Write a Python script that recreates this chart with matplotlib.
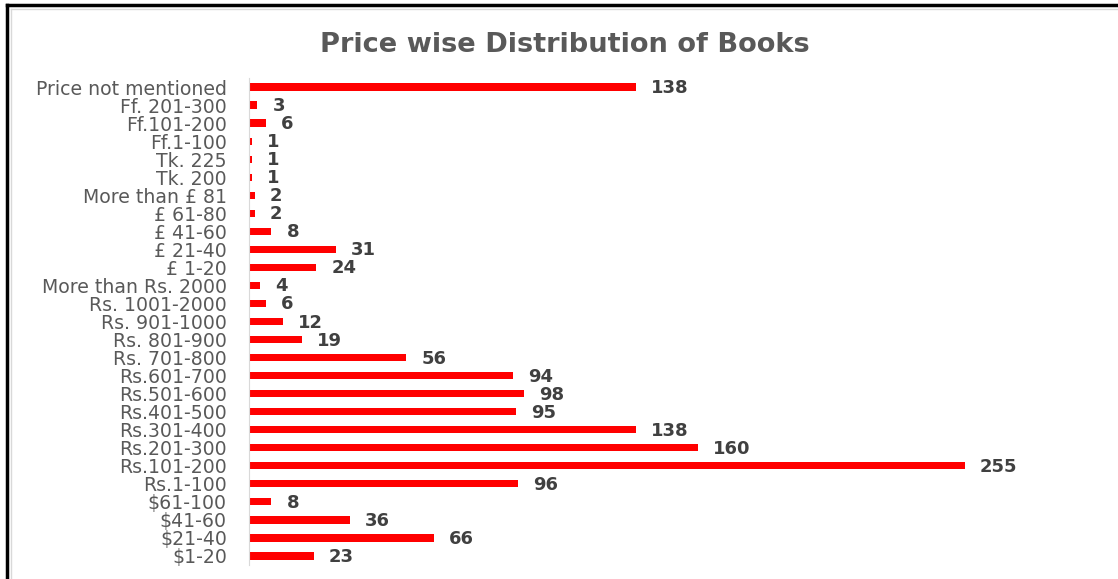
import matplotlib
matplotlib.use("Agg")
import matplotlib.pyplot as plt
from matplotlib.lines import Line2D

plt.rcParams['text.parse_math'] = False

categories = ["Price not mentioned", "Ff. 201-300", "Ff.101-200", "Ff.1-100", "Tk. 225",
              "Tk. 200", "More than £ 81", "£ 61-80", "£ 41-60", "£ 21-40", "£ 1-20",
              "More than Rs. 2000", "Rs. 1001-2000", "Rs. 901-1000", "Rs. 801-900",
              "Rs. 701-800", "Rs.601-700", "Rs.501-600", "Rs.401-500", "Rs.301-400",
              "Rs.201-300", "Rs.101-200", "Rs.1-100", "$61-100", "$41-60", "$21-40", "$1-20"]
values = [138, 3, 6, 1, 1, 1, 2, 2, 8, 31, 24, 4, 6, 12, 19, 56, 94, 98, 95, 138,
          160, 255, 96, 8, 36, 66, 23]
title = "Price wise Distribution of Books"

W, H = 1118, 579
fig = plt.figure(figsize=(W / 100, H / 100), dpi=100)
ax = fig.add_axes([249 / W, 1 - 565 / H, (1035 - 249) / W, (565 - 78) / H])

n = len(categories)
ypos = list(range(n - 1, -1, -1))
ax.barh(ypos, values, height=0.4, color="#ff0000")
ax.set_ylim(-0.5, n - 0.5)
ax.set_xlim(0, 280)
ax.set_yticks(ypos)
ax.set_yticklabels(categories, fontname="DejaVu Sans", fontsize=13.6, color="#595959")
ax.tick_params(axis="y", length=0, pad=16)
ax.set_xticks([])
for s in ["top", "right", "bottom"]:
    ax.spines[s].set_visible(False)
ax.spines["left"].set_color("#d9d9d9")

for y, v in zip(ypos, values):
    ax.annotate(str(v), (v, y), xytext=(15, -1), textcoords="offset pixels",
                ha="left", va="center", fontsize=13, fontweight="bold",
                color="#404040", fontname="DejaVu Sans")

fig.text(565 / W, 1 - 45 / H, title, ha="center", va="center", fontname="DejaVu Sans",
         fontweight="bold", fontsize=19.6, color="#595959")

# frame (cropped border)
fig.add_artist(Line2D([7 / W, 7 / W], [0, 1 - 5 / H], color="black", lw=2.5, transform=fig.transFigure))
fig.add_artist(Line2D([7 / W, 1], [1 - 5 / H, 1 - 5 / H], color="black", lw=2.5, transform=fig.transFigure))
fig.add_artist(Line2D([11 / W, 11 / W], [0, 1 - 9 / H], color="#d9d9d9", lw=1, transform=fig.transFigure))
fig.add_artist(Line2D([11 / W, 1], [1 - 9 / H, 1 - 9 / H], color="#d9d9d9", lw=1, transform=fig.transFigure))

fig.savefig("out.png", dpi=100)
